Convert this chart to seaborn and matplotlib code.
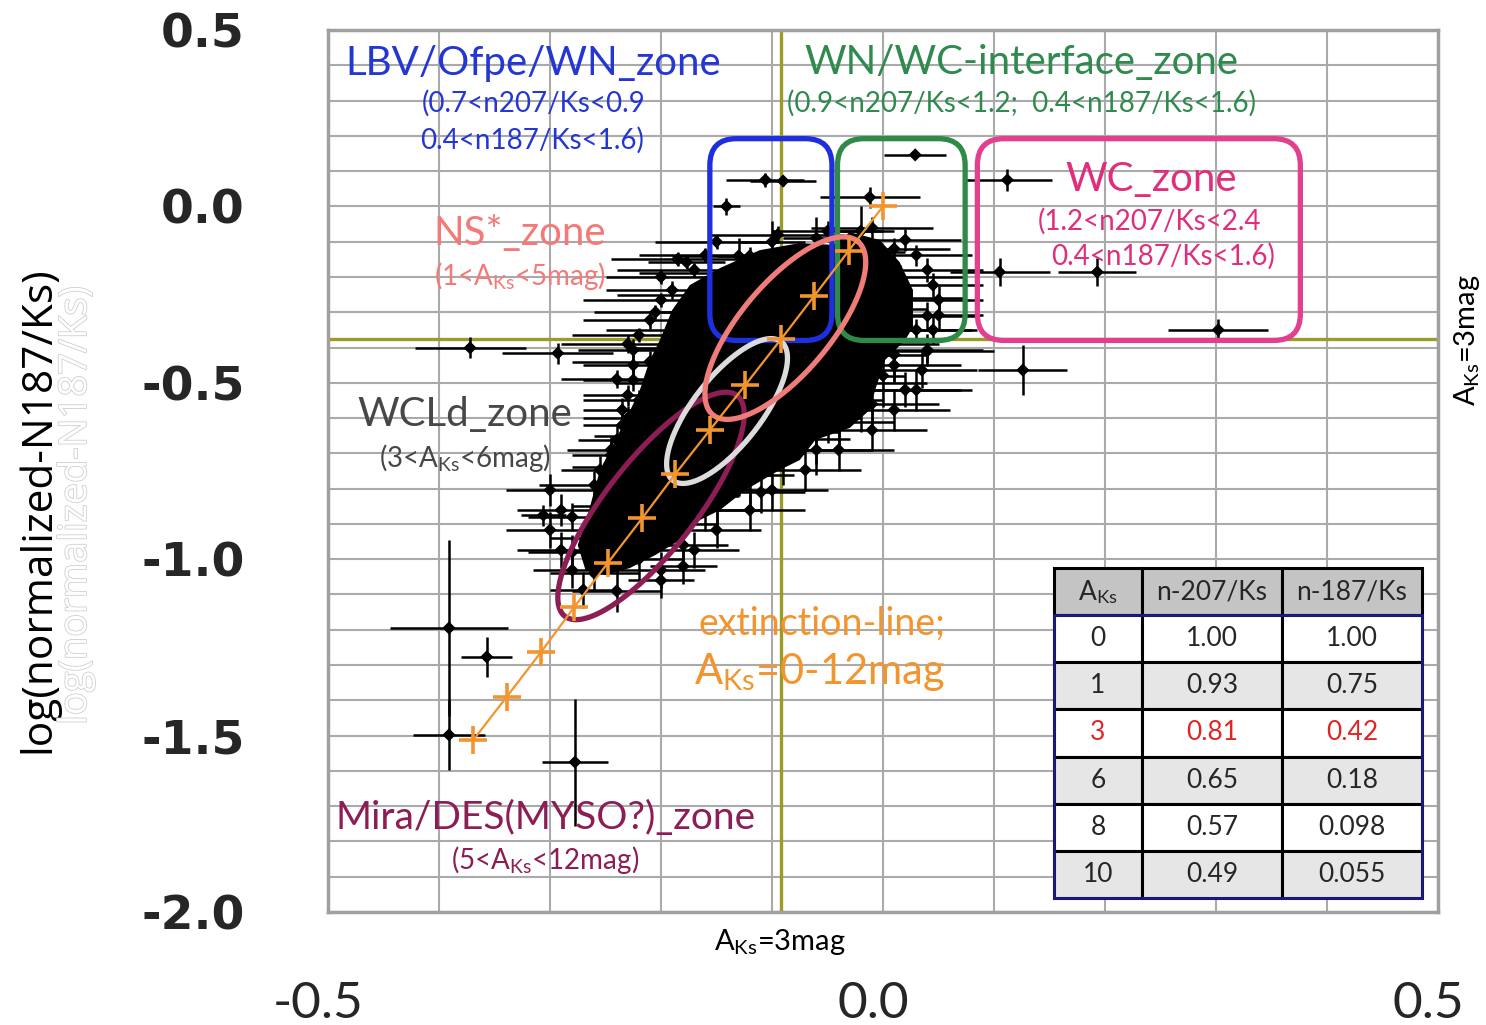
import numpy as np
import pandas as pd
import matplotlib
matplotlib.use("Agg")
import matplotlib.pyplot as plt
import seaborn as sns
from matplotlib.patches import FancyBboxPatch, Rectangle
from matplotlib.transforms import ScaledTranslation
import matplotlib.patheffects as pe

# ---------------- data ----------------
# observed sources: log(n207/Ks), log(n187/Ks), errors
src_x = [-0.150, -0.095, -0.050, -0.010, -0.185, -0.120, -0.040, 0.010, -0.200, -0.140,
         -0.060, 0.015, -0.170, -0.090, 0.020, -0.205, -0.120, -0.030, 0.040, -0.180,
         -0.070, 0.030,
         -0.230, -0.140, -0.030, 0.040, -0.210, -0.100, 0.010, -0.240, -0.160, -0.040,
         0.030, -0.220, -0.110, -0.010, -0.230, -0.150, -0.050, -0.200, -0.090, -0.245,
         -0.140, -0.060,
         -0.220, -0.130, -0.260, -0.180, -0.110, -0.230, -0.160, -0.280, -0.200, -0.250,
         -0.180, -0.280, -0.220, -0.260, -0.200, -0.240, -0.180,
         # left edge
         -0.160, -0.170, -0.190, -0.200, -0.210, -0.220, -0.225, -0.225, -0.225, -0.230,
         -0.235, -0.235, -0.240, -0.245, -0.255, -0.300, -0.290, -0.300, -0.290, -0.280,
         -0.270,
         # right edge
         0.020, 0.030, 0.040, 0.045, 0.050, 0.050, 0.045, 0.040, 0.035, 0.020,
         0.010, -0.010, -0.040, -0.070, -0.100, -0.120, -0.150, -0.170, -0.200,
         # hanging / rising vertical bars
         -0.020, -0.040, -0.060, -0.090, -0.120, -0.150, 0.000, 0.010,
         -0.100, -0.060, -0.020, -0.130,
         # isolated sources
         -0.106, -0.090, -0.141, -0.012, 0.029, -0.177, 0.112, 0.105, 0.193, 0.302,
         0.126, -0.372, -0.293, -0.306, -0.391, -0.357, -0.391, -0.2775]
src_y = [-0.100, -0.080, -0.070, -0.060, -0.150, -0.140, -0.130, -0.120, -0.200, -0.190,
         -0.180, -0.200, -0.250, -0.240, -0.260, -0.300, -0.300, -0.290, -0.310, -0.350,
         -0.340, -0.350,
         -0.390, -0.400, -0.390, -0.410, -0.440, -0.450, -0.450, -0.490, -0.500, -0.500,
         -0.520, -0.550, -0.550, -0.560, -0.600, -0.600, -0.610, -0.650, -0.660, -0.690,
         -0.700, -0.690,
         -0.740, -0.760, -0.790, -0.800, -0.810, -0.850, -0.860, -0.880, -0.900, -0.940,
         -0.960, -0.980, -1.000, -1.040, -1.060, -1.090, -1.020,
         -0.138, -0.180, -0.237, -0.265, -0.322, -0.365, -0.407, -0.450, -0.492, -0.535,
         -0.577, -0.620, -0.662, -0.705, -0.747, -0.804, -0.861, -0.917, -0.974, -1.031,
         -1.087,
         -0.095, -0.138, -0.180, -0.223, -0.265, -0.308, -0.350, -0.407, -0.464, -0.520,
         -0.577, -0.634, -0.690, -0.747, -0.804, -0.861, -0.917, -0.974, -1.031,
         -0.550, -0.600, -0.640, -0.700, -0.760, -0.820, -0.480, -0.420,
         -0.100, -0.090, -0.070, -0.140,
         0.075, 0.072, 0.000, 0.026, 0.146, -0.158, 0.075, -0.186, -0.186, -0.350,
         -0.464, -0.401, -0.416, -0.875, -1.195, -1.277, -1.498, -1.575]
src_xerr = [0.055, 0.060, 0.050, 0.055, 0.060, 0.070, 0.060, 0.050, 0.050, 0.080,
            0.070, 0.060, 0.070, 0.070, 0.055, 0.055, 0.080, 0.070, 0.045, 0.070,
            0.080, 0.050,
            0.060, 0.090, 0.080, 0.060, 0.070, 0.090, 0.060, 0.050, 0.080, 0.080,
            0.050, 0.050, 0.080, 0.060, 0.040, 0.070, 0.060, 0.060, 0.060, 0.040,
            0.060, 0.050,
            0.060, 0.050, 0.050, 0.060, 0.040, 0.050, 0.050, 0.040, 0.050, 0.050,
            0.040, 0.040, 0.040, 0.040, 0.030, 0.040, 0.030,
            0.060, 0.070, 0.060, 0.070, 0.060, 0.060, 0.050, 0.045, 0.045, 0.040,
            0.035, 0.035, 0.035, 0.035, 0.035, 0.040, 0.040, 0.040, 0.040, 0.035,
            0.030,
            0.050, 0.050, 0.050, 0.045, 0.040, 0.040, 0.040, 0.050, 0.050, 0.050,
            0.050, 0.050, 0.050, 0.050, 0.050, 0.050, 0.040, 0.040, 0.040,
            0.020, 0.020, 0.020, 0.020, 0.020, 0.020, 0.020, 0.030,
            0.030, 0.030, 0.030, 0.020,
            0.035, 0.030, 0.012, 0.045, 0.028, 0.035, 0.040, 0.045, 0.035, 0.045,
            0.040, 0.050, 0.050, 0.020, 0.053, 0.023, 0.032, 0.030]
src_yerr = [0.020, 0.025, 0.030, 0.030, 0.020, 0.025, 0.030, 0.030, 0.020, 0.025,
            0.030, 0.035, 0.025, 0.030, 0.035, 0.020, 0.030, 0.035, 0.040, 0.025,
            0.035, 0.030,
            0.025, 0.030, 0.040, 0.035, 0.030, 0.040, 0.045, 0.025, 0.035, 0.050,
            0.060, 0.030, 0.050, 0.060, 0.035, 0.050, 0.060, 0.040, 0.060, 0.035,
            0.060, 0.070,
            0.045, 0.060, 0.040, 0.060, 0.060, 0.050, 0.060, 0.040, 0.060, 0.050,
            0.050, 0.050, 0.060, 0.050, 0.050, 0.060, 0.050,
            0.020, 0.020, 0.025, 0.020, 0.025, 0.020, 0.030, 0.030, 0.030, 0.030,
            0.035, 0.035, 0.040, 0.040, 0.040, 0.045, 0.045, 0.050, 0.050, 0.050,
            0.050,
            0.030, 0.030, 0.035, 0.035, 0.040, 0.040, 0.040, 0.045, 0.050, 0.050,
            0.060, 0.060, 0.060, 0.060, 0.060, 0.060, 0.050, 0.050, 0.050,
            0.090, 0.100, 0.090, 0.090, 0.090, 0.080, 0.090, 0.080,
            0.060, 0.060, 0.070, 0.050,
            0.020, 0.015, 0.025, 0.030, 0.008, 0.020, 0.030, 0.040, 0.040, 0.030,
            0.070, 0.030, 0.030, 0.030, 0.250, 0.057, 0.100, 0.180]

# envelope of the densely packed part of the source cloud
core_x = [-0.111, -0.075, -0.045, -0.030, -0.003, 0.015, 0.027, 0.027, 0.020, 0.002,
          -0.007, -0.012, -0.030, -0.061, -0.075, -0.093, -0.124, -0.147, -0.165, -0.183,
          -0.205, -0.228, -0.250, -0.268, -0.275, -0.266, -0.255, -0.241, -0.232, -0.219,
          -0.210, -0.201, -0.190, -0.174, -0.147]
core_y = [-0.124, -0.104, -0.109, -0.073, -0.095, -0.158, -0.237, -0.342, -0.379, -0.435,
          -0.520, -0.577, -0.628, -0.662, -0.719, -0.747, -0.804, -0.861, -0.889, -0.946,
          -0.988, -1.025, -1.045, -1.031, -0.960, -0.875, -0.747, -0.662, -0.606, -0.520,
          -0.435, -0.379, -0.294, -0.223, -0.175]

# extinction line A_Ks = 0..12 mag
ext_A = [0, 1, 2, 3, 4, 5, 6, 7, 8, 9, 10, 11, 12]
ext_x = [0.0, -0.031, -0.062, -0.092, -0.124, -0.156, -0.187, -0.217, -0.248, -0.278,
         -0.308, -0.339, -0.369]
ext_y = [0.0, -0.126, -0.254, -0.377, -0.506, -0.634, -0.758, -0.884, -1.011, -1.135,
         -1.263, -1.390, -1.512]

# A_Ks = 3 mag reference lines
ak3_x = -0.0915
ak3_y = -0.377

# zone boxes (log n207/Ks range, log n187/Ks range)
zone_names = ["LBV/Ofpe/WN", "WN/WC-interface", "WC"]
zone_x0 = [-0.156, -0.041, 0.085]
zone_x1 = [-0.046, 0.074, 0.376]
zone_y0 = [-0.380, -0.380, -0.380]
zone_y1 = [0.192, 0.192, 0.192]
zone_colors = ["#1f2fe0", "#2f8a48", "#e2408f"]

# zone ellipses: centre (data), semi-axes (px), angle (deg)
ell_names = ["Mira/DES", "WCLd", "NS*"]
ell_cx = [-0.209, -0.1405, -0.088]
ell_cy = [-0.849, -0.580, -0.345]
ell_a = [140, 88, 113]
ell_b = [45, 34, 45]
ell_ang = [52, 52, 50]
ell_colors = ["#8c1d55", "#dcdcdc", "#f07c7a"]

# table
tab_cols = ["A$_{\\mathrm{Ks}}$", "n-207/Ks", "n-187/Ks"]
tab_A = ["0", "1", "3", "6", "8", "10"]
tab_207 = ["1.00", "0.93", "0.81", "0.65", "0.57", "0.49"]
tab_187 = ["1.00", "0.75", "0.42", "0.18", "0.098", "0.055"]

yticks = [0.5, 0.0, -0.5, -1.0, -1.5, -2.0]
ytick_labels = ["0.5", "0.0", "-0.5", "-1.0", "-1.5", "-2.0"]
xticks = [-0.5, 0.0, 0.5]
xtick_labels = ["-0.5", "0.0", "0.5"]

# ---------------- style ----------------
sns.set_theme(style="white")
plt.rcParams['font.family'] = ['Lato', 'DejaVu Sans']
plt.rcParams['mathtext.fontset'] = 'custom'
plt.rcParams['mathtext.rm'] = 'Lato'
plt.rcParams['mathtext.it'] = 'Lato:italic'
plt.rcParams['mathtext.bf'] = 'Lato:bold'
plt.rcParams['axes.unicode_minus'] = False

fig = plt.figure(figsize=(14.86, 10.25), dpi=100)
ax = fig.add_axes([328 / 1486, 1 - 912 / 1025, 1110 / 1486, 882 / 1025])
ax.set_xlim(-0.5, 0.5)
ax.set_ylim(-2.0, 0.5)

# grid
ax.set_xticks(xticks)
ax.set_xticks(np.arange(-0.5, 0.51, 0.1), minor=True)
ax.set_yticks(yticks)
ax.set_yticks(np.arange(-2.0, 0.51, 0.1), minor=True)
ax.grid(True, which='both', color='#aaaaaa', lw=1.5, zorder=0)
ax.set_axisbelow(True)
ax.tick_params(which='both', length=0)
ax.set_yticklabels(ytick_labels, fontfamily='DejaVu Sans', fontweight='bold', fontsize=34)
ax.set_xticklabels(xtick_labels, fontfamily='Lato', fontsize=37)
ax.tick_params(axis='y', pad=60)
ax.tick_params(axis='x', pad=50)
for lab in ax.get_xticklabels():
    lab.set_transform(lab.get_transform() + ScaledTranslation(-0.1, 0, fig.dpi_scale_trans))
for sp in ax.spines.values():
    sp.set_color('#a0a0a0')
    sp.set_linewidth(2.5)

# reference lines
ax.axvline(ak3_x, color='#9b9b26', lw=2.4, zorder=1)
ax.axhline(ak3_y, color='#9b9b26', lw=2.4, zorder=1)

# dense core of the cloud
ax.fill(core_x, core_y, color='black', lw=0, zorder=2)

# sources with error bars
df = pd.DataFrame({"x": src_x, "y": src_y, "xerr": src_xerr, "yerr": src_yerr})
ax.errorbar(df.x, df.y, xerr=df.xerr, yerr=df.yerr, fmt='none', ecolor='black',
            elinewidth=1.8, capsize=0, zorder=3)
sns.scatterplot(data=df, x="x", y="y", color='black', s=45, marker='D', edgecolor='none',
                ax=ax, zorder=4, legend=False)

# zone boxes
sx = 1110 / 1.0
sy = 882 / 2.5
for x0, x1, y0, y1, c in zip(zone_x0, zone_x1, zone_y0, zone_y1, zone_colors):
    box = FancyBboxPatch((x0, y0), x1 - x0, y1 - y0,
                         boxstyle="round,pad=0,rounding_size=0.024",
                         mutation_aspect=sx / sy, fill=False, ec=c, lw=3.8, zorder=5)
    ax.add_patch(box)

# ellipses
t = np.linspace(0, 2 * np.pi, 300)
for cx, cy, a, b, ang, c in zip(ell_cx, ell_cy, ell_a, ell_b, ell_ang, ell_colors):
    th = np.deg2rad(ang)
    px = a * np.cos(t) * np.cos(th) - b * np.sin(t) * np.sin(th)
    py = a * np.cos(t) * np.sin(th) + b * np.sin(t) * np.cos(th)
    ax.plot(cx + px / sx, cy + py / sy, color=c, lw=3.8, zorder=6)

# extinction line
ext = pd.DataFrame({"A": ext_A, "x": ext_x, "y": ext_y})
sns.lineplot(data=ext, x="x", y="y", sort=False, color='#f3952e', lw=1.6, marker='+',
             markersize=20, markeredgewidth=2.6, markeredgecolor='#f3952e', ax=ax, zorder=7)
ax.set_xlabel("")
ax.set_ylabel("")

# zone labels
def lab(x, y, s, c, fs):
    ax.text(x, y, s, color=c, fontsize=fs, ha='center', va='center', zorder=8)

lab(-0.315, 0.406, "LBV/Ofpe/WN_zone", "#2437d2", 29)
lab(-0.315, 0.293, "(0.7<n207/Ks<0.9", "#2437d2", 20)
lab(-0.316, 0.188, "0.4<n187/Ks<1.6)", "#2437d2", 20)
lab(0.125, 0.409, "WN/WC-interface_zone", "#2f8a4d", 29)
lab(0.125, 0.293, "(0.9<n207/Ks<1.2;  0.4<n187/Ks<1.6)", "#2f8a4d", 20)
lab(0.242, 0.075, "WC_zone", "#df2f7c", 29)
lab(0.240, -0.041, "(1.2<n207/Ks<2.4", "#df2f7c", 20)
lab(0.252, -0.141, "0.4<n187/Ks<1.6)", "#df2f7c", 20)
lab(-0.327, -0.078, "NS*_zone", "#f27a78", 29)
lab(-0.327, -0.197, "(1<A$_{\\mathrm{Ks}}$<5mag)", "#f27a78", 20)
lab(-0.377, -0.591, "WCLd_zone", "#474747", 29)
lab(-0.377, -0.713, "(3<A$_{\\mathrm{Ks}}$<6mag)", "#474747", 20)
lab(-0.055, -1.184, "extinction-line;", "#f3952e", 27)
lab(-0.057, -1.320, "A$_{\\mathrm{Ks}}$=0-12mag", "#f3952e", 30)
lab(-0.304, -1.734, "Mira/DES(MYSO?)_zone", "#8c1d55", 28)
lab(-0.304, -1.853, "(5<A$_{\\mathrm{Ks}}$<12mag)", "#8c1d55", 20)

# table
cell_text = [[a, b, c] for a, b, c in zip(tab_A, tab_207, tab_187)]
bx, by, bw, bh = (1054 - 328) / 1110, (912 - 898) / 882, (1422 - 1054) / 1110, (898 - 568) / 882
tbl = ax.table(cellText=cell_text, colLabels=tab_cols, cellLoc='center',
               bbox=[bx, by, bw, bh], colWidths=[0.239, 0.381, 0.381], zorder=9)
tbl.auto_set_font_size(False)
for (r, c), cell in tbl.get_celld().items():
    cell.set_linewidth(2.2)
    cell.set_edgecolor('black')
    txt = cell.get_text()
    txt.set_fontsize(19)
    txt.set_fontfamily('Lato')
    if r == 0:
        cell.set_facecolor('#c4c4c4')
    elif r % 2 == 0:
        cell.set_facecolor('#e6e6e6')
    else:
        cell.set_facecolor('white')
    if r == 3:
        txt.set_color('#e02525')
ax.add_patch(Rectangle((bx, by), bw, bh * 6 / 7, transform=ax.transAxes, fill=False,
                       ec='#1b1b80', lw=2.0, zorder=10))

# axis titles and side notes
fig.text(38 / 1486, 1 - 510 / 1025, "log(normalized-N187/Ks)", rotation=90, ha='center',
         va='center', fontsize=30.5, fontfamily='Open Sans', color='black')
fig.text(76 / 1486, 1 - 505 / 1025, "log(normalized-N187/Ks)", rotation=90, ha='center',
         va='center', fontsize=27.5, fontfamily='Open Sans', color='white',
         path_effects=[pe.withStroke(linewidth=1.2, foreground='#cfcfcf')])
fig.text(1467 / 1486, 1 - 340 / 1025, "A$_{\\mathrm{Ks}}$=3mag", rotation=90, ha='center',
         va='center', fontsize=21, color='black')
fig.text(780 / 1486, 1 - 942 / 1025, "A$_{\\mathrm{Ks}}$=3mag", ha='center',
         va='center', fontsize=21, color='black')

fig.savefig("out.png", dpi=100)
